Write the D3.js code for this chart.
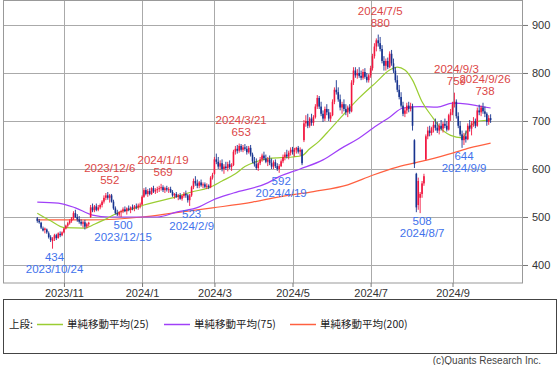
<!DOCTYPE html>
<html><head><meta charset="utf-8">
<script src="https://cdn.jsdelivr.net/npm/d3@7"></script>
<style>body{margin:0;background:#fff}svg{display:block}</style>
</head><body><svg id="c" width="558" height="365"></svg>
<script>
// daily candles [open, high, low, close], trading day index 0 = 2023/10/12
const candles = [
[497,500,488,492],[492,496,486,489],[488,490,475,478],[476,480,470,472],[473,478,466,476],
[474,476,465,468],[466,470,455,458],[458,462,448,452],[450,458,434,455],[455,465,450,462],
[462,465,452,456],[456,468,455,466],[465,470,458,462],[462,470,460,468],
// Nov
[468,478,466,476],[476,484,474,482],[482,490,478,487],[487,495,484,492],[492,500,488,497],
[497,512,494,508],[508,515,498,500],[500,506,490,495],[495,502,486,490],[490,495,482,486],
[486,492,478,489],[489,494,474,480],[480,488,476,485],[485,490,480,488],[500,525,498,520],
[520,528,510,514],[514,525,510,522],[522,528,512,515],[515,525,512,520],[520,528,516,525],
// Dec
[525,535,520,532],[532,545,528,540],[540,550,535,545],[545,552,536,540],[540,548,530,545],
[545,548,530,532],[532,536,515,518],[518,522,505,508],[508,515,502,505],[505,512,501,510],
[510,515,500,512],[512,520,508,516],[516,522,510,512],[512,520,505,518],[518,524,512,515],
[515,522,508,520],[520,526,514,518],[518,525,512,522],[522,528,516,520],[520,528,515,524],
[524,530,518,526],
// Jan
[526,545,524,542],[542,560,540,556],[556,562,545,548],[548,558,542,554],[554,560,545,548],
[548,562,546,560],[560,565,550,553],[553,560,548,556],[556,563,550,558],[558,565,552,560],
[560,569,555,562],[562,566,552,556],[556,563,550,560],[560,565,553,557],[557,562,550,558],
[558,563,550,552],[552,556,542,545],[545,550,538,548],[548,552,540,542],
// Feb
[542,548,535,545],[545,550,536,538],[538,546,534,544],[544,552,540,548],[548,555,540,545],
[545,548,530,535],[535,548,523,545],[545,565,542,562],[562,580,558,575],[575,585,565,570],
[570,578,560,565],[565,575,560,572],[572,578,563,566],[566,572,560,568],[568,572,560,563],
[563,570,558,565],[565,568,558,562],[562,585,560,582],[582,592,578,588],
// Mar
[590,625,588,620],[620,632,610,615],[615,625,600,605],[605,618,598,612],[612,620,595,600],
[600,610,590,605],[605,615,598,602],[602,615,595,610],[610,618,600,604],[604,612,596,608],
[608,640,606,636],[636,648,630,642],[642,650,632,638],[638,653,634,648],[648,652,636,640],
[640,650,635,645],[645,652,638,642],[642,648,630,635],[635,648,632,644],[644,650,626,630],
// Apr
[630,634,612,616],[616,625,605,610],[610,622,598,602],[602,615,596,612],[612,625,608,620],
[620,632,615,628],[628,636,618,622],[622,630,612,615],[615,625,606,620],[620,628,608,612],
[612,622,600,605],[605,618,600,614],[614,620,602,606],[606,612,596,600],[600,610,592,606],
[606,620,604,616],[616,630,612,625],[625,635,618,630],[630,640,622,626],[626,638,620,634],
[634,645,628,640],
// May
[640,646,630,636],[636,644,626,640],[640,646,632,644],[644,648,632,636],[636,645,628,640],
[640,642,608,612],[660,702,656,695],[695,712,688,700],[700,715,685,690],[690,708,686,705],
[705,715,690,696],[696,712,690,708],[708,735,705,730],[730,754,725,748],[748,752,725,730],
[730,740,710,715],[715,722,698,705],[705,730,700,725],[725,735,712,718],[718,725,700,705],
[705,718,698,712],
// Jun
[712,745,710,740],[740,770,735,765],[765,785,755,760],[760,770,740,745],[745,755,722,728],
[728,740,715,735],[735,745,720,725],[725,735,712,718],[718,732,708,728],[728,735,715,720],
[720,785,718,780],[780,812,775,805],[805,812,790,795],[795,808,788,800],[800,812,790,794],
[794,805,785,790],[790,808,786,802],[802,810,788,792],[792,800,780,785],[785,798,780,795],
// Jul
[795,815,790,810],[810,840,805,835],[835,862,830,855],[855,872,845,868],[868,880,855,862],
[862,875,845,850],[850,858,820,825],[825,835,805,815],[815,830,805,825],[825,832,808,812],
[812,845,810,840],[840,848,815,820],[820,830,800,805],[805,812,780,785],[785,795,760,765],
[765,775,745,750],[750,760,728,732],[732,740,710,715],[715,728,708,722],[722,738,715,732],
[732,740,718,725],[725,738,720,730],
// Aug
[730,736,680,690],[660,662,602,610],[590,592,510,520],[525,582,515,575],[540,552,508,548],
[548,575,540,570],[570,590,565,585],[620,672,618,668],[668,688,662,680],[680,690,668,675],
[675,688,670,685],[685,700,676,692],[692,705,680,686],[686,698,675,680],[680,695,672,690],
[690,702,680,684],[684,698,676,694],[694,705,685,690],[690,700,678,682],[682,715,680,712],
[712,725,700,718],
// Sep
[718,740,712,735],[735,759,728,740],[740,745,705,710],[710,718,685,690],[690,700,668,672],
[672,680,644,660],[660,675,650,668],[668,680,655,662],[662,695,660,690],[690,702,678,684],
[684,700,670,695],[695,708,688,700],[700,705,685,690],[690,728,688,722],[722,734,712,718],
[718,732,710,728],[728,738,715,720],[720,730,708,715],[715,718,690,698],[698,712,692,706],
[706,714,696,702]
];

// moving averages: [day index, value]
const sma25 = [[0,508],[7,492],[14,478],[25,477],[30,485],[35,494],[43,510],[51,518],[56,525],
[64,533],[72,541],[81,552],[90,561],[97,575],[104,590],[109,605],[114,614],[122,622],[134,625],
[139,628],[143,642],[148,658],[152,675],[160,710],[169,748],[178,781],[185,806],[189,812],
[193,806],[197,785],[202,740],[208,705],[211,688],[217,670],[223,665],[227,688],[232,700],[238,702]];
const sma75 = [[0,531],[11,529],[20,519],[29,504],[38,500],[50,500],[63,500],[73,510],[85,521],
[92,535],[103,550],[121,571],[127,584],[138,600],[150,619],[160,644],[168,662],[178,690],
[185,708],[192,727],[201,730],[210,729],[218,737],[226,735],[232,731],[238,727]];
const sma200 = [[0,494],[28,494],[55,500],[71,508],[92,519],[113,531],[127,542],[145,553],
[163,567],[176,587],[189,604],[205,619],[218,633],[227,644],[238,654]];

// annotations
const hiIdx = [37, 65, 106, 179, 219, 234];
const hiDate = ["2023/12/6", "2024/1/19", "2024/3/21", "2024/7/5", "2024/9/3", "2024/9/26"];
const loIdx = [8, 44, 80, 127, 201, 223];
const loDate = ["2023/10/24", "2023/12/15", "2024/2/9", "2024/4/19", "2024/8/7", "2024/9/9"];

// axes
const xTickIdx = [14, 55, 93, 134, 175, 218];
const xTickLabels = ["2023/11", "2024/1", "2024/3", "2024/5", "2024/7", "2024/9"];
const yTicks = [400, 500, 600, 700, 800, 900];

const legendLabels = ["単純移動平均(25)", "単純移動平均(75)", "単純移動平均(200)"];
const maColors = ["#9acd32", "#a040f8", "#ff6040"];

const svg = d3.select("#c");
const L = 3, R = 523, T = 0, B = 283;
const x = d3.scaleLinear().domain([-18, 255]).range([L, R]);
const y = d3.scaleLinear().domain([362.5, 952]).range([B, T]);
const crisp = v => Math.round(v) + 0.5;

const grid = svg.append("g");
yTicks.forEach(v => grid.append("line").attr("x1", L).attr("x2", R)
  .attr("y1", crisp(y(v))).attr("y2", crisp(y(v))).attr("stroke", "#aaa"));
xTickIdx.forEach(i => grid.append("line").attr("y1", T).attr("y2", B)
  .attr("x1", crisp(x(i))).attr("x2", crisp(x(i))).attr("stroke", "#aaa"));
svg.append("rect").attr("x", L + 0.5).attr("y", 0.5).attr("width", R - L - 1).attr("height", B - 0.5)
  .attr("fill", "none").attr("stroke", "#999");

// right axis
const yAx = svg.append("g").attr("transform", `translate(${R},0)`)
  .call(d3.axisRight(y).tickValues(yTicks).tickSize(5).tickPadding(4));
yAx.select(".domain").remove();
yAx.selectAll("line").attr("stroke", "#777");
yAx.selectAll("text").attr("font-family", "Liberation Sans, Arial, sans-serif").attr("font-size", 11).attr("fill", "#333");

// bottom axis
const xAx = svg.append("g").attr("transform", `translate(0,${B})`)
  .call(d3.axisBottom(x).tickValues(xTickIdx).tickFormat((d, k) => xTickLabels[k]).tickSize(4).tickPadding(2));
xAx.select(".domain").remove();
xAx.selectAll("line").attr("stroke", "#777");
xAx.selectAll("text").attr("font-family", "Liberation Sans, Arial, sans-serif").attr("font-size", 11).attr("fill", "#333");

// moving averages
const line = d3.line().x(d => x(d[0])).y(d => y(d[1])).curve(d3.curveMonotoneX);
[sma200, sma75, sma25].forEach((s, k) => {
  svg.append("path").datum(s).attr("d", line).attr("fill", "none")
    .attr("stroke", maColors[2 - k]).attr("stroke-width", 1.2);
});

// candles
const up = "#f2163f", dn = "#17338f";
const cg = svg.append("g");
candles.forEach((c, i) => {
  const [o, h, l, cl] = c;
  const col = cl >= o ? up : dn;
  const cx = x(i);
  cg.append("line").attr("x1", cx).attr("x2", cx).attr("y1", y(h)).attr("y2", y(l))
    .attr("stroke", col).attr("stroke-width", 0.9);
  const top = y(Math.max(o, cl)), bot = y(Math.min(o, cl));
  cg.append("rect").attr("x", cx - 0.8).attr("width", 1.6)
    .attr("y", top).attr("height", Math.max(1, bot - top)).attr("fill", col);
});

// annotations
const af = "Liberation Sans, Arial, sans-serif";
hiIdx.forEach((i, k) => {
  const yy = y(candles[i][1]), xx = x(i) + 2;
  svg.append("text").attr("x", xx).attr("y", yy - 8).attr("text-anchor", "middle")
    .attr("font-family", af).attr("font-size", 11.5).attr("fill", "#dc4646").text(candles[i][1]);
  svg.append("text").attr("x", xx).attr("y", yy - 20).attr("text-anchor", "middle")
    .attr("font-family", af).attr("font-size", 11.5).attr("fill", "#dc4646").text(hiDate[k]);
});
loIdx.forEach((i, k) => {
  const yy = y(candles[i][2]), xx = x(i) + 2;
  svg.append("text").attr("x", xx).attr("y", yy + 12).attr("text-anchor", "middle")
    .attr("font-family", af).attr("font-size", 11.5).attr("fill", "#3f72ec").text(candles[i][2]);
  svg.append("text").attr("x", xx).attr("y", yy + 24).attr("text-anchor", "middle")
    .attr("font-family", af).attr("font-size", 11.5).attr("fill", "#3f72ec").text(loDate[k]);
});

// legend
svg.append("rect").attr("x", 3.5).attr("y", 299.5).attr("width", 553).attr("height", 54)
  .attr("fill", "#fff").attr("stroke", "#444");
const lf = "Noto Sans CJK JP, sans-serif";
svg.append("text").attr("x", 9).attr("y", 328).attr("font-family", lf).attr("font-size", 10.5)
  .attr("fill", "#222").text("上段:");
const legX = [37, 164, 290];
legendLabels.forEach((t, k) => {
  svg.append("line").attr("x1", legX[k]).attr("x2", legX[k] + 26).attr("y1", 324.5).attr("y2", 324.5)
    .attr("stroke", maColors[k]).attr("stroke-width", 1.5);
  svg.append("text").attr("x", legX[k] + 30).attr("y", 328).attr("font-family", lf).attr("font-size", 10.5)
    .attr("fill", "#222").text(t);
});
svg.append("text").attr("x", 541).attr("y", 364).attr("text-anchor", "end")
  .attr("font-family", "Liberation Sans, Arial, sans-serif").attr("font-size", 10).attr("fill", "#444")
  .text("(c)Quants Research Inc.");
</script></body></html>
